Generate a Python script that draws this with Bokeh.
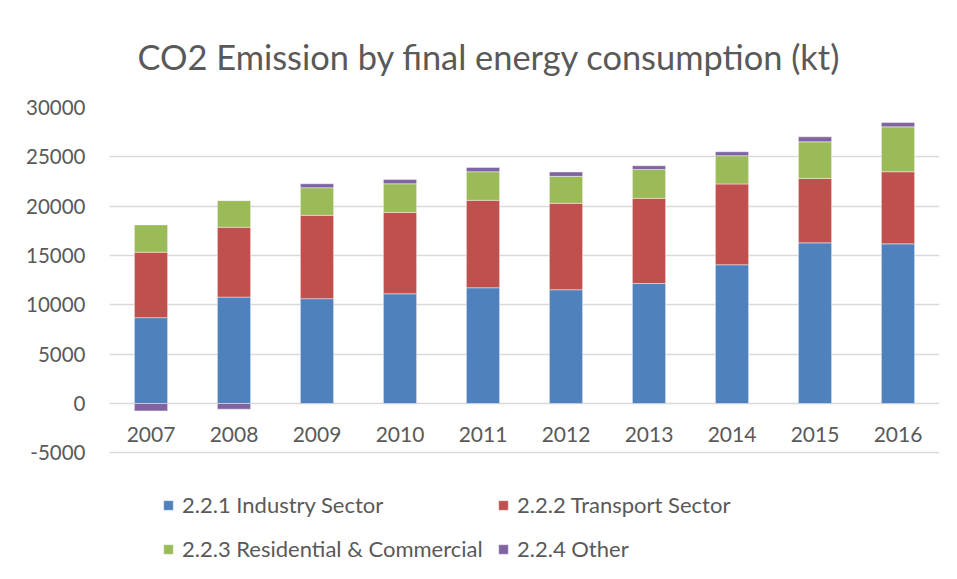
import numpy as np
from bokeh.plotting import figure
from bokeh.models import ColumnDataSource, FactorRange, FixedTicker, Legend, LegendItem, Range1d
from bokeh.core.properties import value
from bokeh.embed import file_html
from bokeh.resources import INLINE

years = ["2007", "2008", "2009", "2010", "2011", "2012", "2013", "2014", "2015", "2016"]
industry = [8700, 10780, 10620, 11120, 11730, 11530, 12160, 14060, 16280, 16180]
transport = [6630, 7080, 8450, 8250, 8860, 8760, 8630, 8190, 6530, 7310]
residential = [2770, 2700, 2800, 2900, 2900, 2730, 2930, 2860, 3710, 4550]
other = [-750, -580, 400, 435, 436, 444, 373, 405, 506, 434]
series_names = ["2.2.1 Industry Sector", "2.2.2 Transport Sector",
                "2.2.3 Residential & Commercial", "2.2.4 Other"]
colors = ["#4F81BD", "#C0504D", "#9BBB59", "#8064A2"]
y_ticks = [-5000, 0, 5000, 10000, 15000, 20000, 25000, 30000]
y_tick_labels = ["-5000", "0", "5000", "10000", "15000", "20000", "25000", "30000"]
title_text = "CO2 Emission by final energy consumption (kt)"

FONT = "Lato"
TXT = "#595959"
W, H = 957, 579
FRAME_L, FRAME_R, FRAME_T = 109, 939, 107
PX_PER_5000 = 49.33  # vertical scale of the value axis

series = [industry, transport, residential, other]
pos_base = np.zeros(len(years))
neg_base = np.zeros(len(years))
data = {"x": years}
for i, s in enumerate(series):
    v = np.array(s, dtype=float)
    bottom = np.where(v >= 0, pos_base, neg_base + v)
    top = np.where(v >= 0, pos_base + v, neg_base)
    pos_base = np.where(v >= 0, pos_base + v, pos_base)
    neg_base = np.where(v < 0, neg_base + v, neg_base)
    data[f"b{i}"] = bottom
    data[f"t{i}"] = top
source = ColumnDataSource(data)

# the plot frame extends to the bottom of the canvas so the legend can live inside it
y_top = max(y_ticks)
y_bottom = y_top - (H - FRAME_T) / PX_PER_5000 * 5000

p = figure(width=W, height=H, output_backend="svg", toolbar_location=None,
           x_range=FactorRange(*years, range_padding=0),
           y_range=Range1d(y_bottom, y_top),
           min_border_left=FRAME_L, min_border_right=W - FRAME_R,
           min_border_top=FRAME_T, min_border_bottom=0)
p.outline_line_color = None
p.background_fill_color = "white"
p.border_fill_color = "white"

renderers = []
for i in range(4):
    r = p.vbar(x="x", bottom=f"b{i}", top=f"t{i}", width=0.4, source=source,
               fill_color=colors[i], line_color="white", line_width=0.6, line_alpha=0.7)
    renderers.append(r)

# category labels next to the zero line
p.text(x=years, y=[0] * len(years), text=years, y_offset=31,
       text_align="center", text_baseline="middle",
       text_font=value(FONT), text_font_size="21px", text_color=TXT)

p.xaxis.visible = False
p.xgrid.visible = False
p.ygrid.grid_line_color = "#D9D9D9"
p.ygrid.grid_line_width = 1.5
p.yaxis.ticker = FixedTicker(ticks=y_ticks)
p.yaxis.major_label_overrides = {t: lab for t, lab in zip(y_ticks, y_tick_labels)}
p.yaxis.axis_line_color = None
p.yaxis.major_tick_line_color = None
p.yaxis.minor_tick_line_color = None
p.yaxis.major_label_standoff = 18
p.yaxis.major_label_text_font = FONT
p.yaxis.major_label_text_font_size = "20.5px"
p.yaxis.major_label_text_color = TXT

p.title.text = title_text
p.title.align = "left"
p.title.offset = 28
p.title.standoff = 62
p.title.text_font = FONT
p.title.text_font_size = "34.4px"
p.title.text_font_style = "normal"
p.title.text_color = TXT

legend = Legend(items=[LegendItem(label=series_names[i], renderers=[renderers[i]]) for i in range(4)],
                orientation="horizontal", ncols=2, location=(53, 14),
                glyph_width=12, glyph_height=12, label_standoff=8,
                label_width=304, label_height=33,
                label_text_font=FONT, label_text_font_size="22px", label_text_color=TXT,
                spacing=11, border_line_color=None, background_fill_alpha=0,
                padding=0, margin=0)
p.add_layout(legend, "center")

open("out.html", "w").write(file_html(p, INLINE))
